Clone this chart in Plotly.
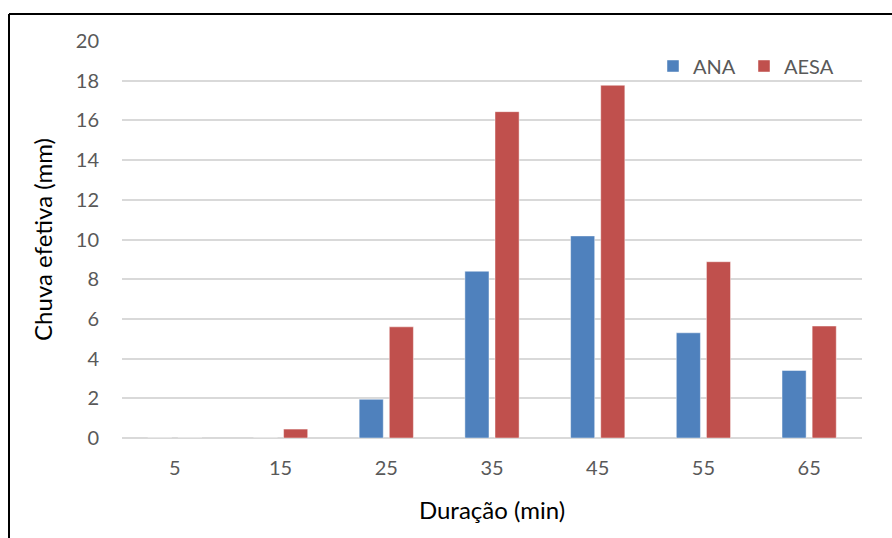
import plotly.graph_objects as go

# Duração das chuvas (min) e chuva efetiva (mm) por fonte
duracao = ["5", "15", "25", "35", "45", "55", "65"]
ana = [0, 0, 1.95, 8.4, 10.18, 5.3, 3.4]
aesa = [0, 0.45, 5.6, 16.44, 17.77, 8.88, 5.64]
y_ticks = [0, 2, 4, 6, 8, 10, 12, 14, 16, 18, 20]

FONT = "Lato"
TICK_COLOR = "#595959"

fig = go.Figure()
fig.add_trace(go.Bar(
    x=duracao, y=ana, name="ANA",
    marker=dict(color="#4F81BD", line=dict(color="rgba(255,255,255,0.45)", width=1)),
))
fig.add_trace(go.Bar(
    x=duracao, y=aesa, name="AESA",
    marker=dict(color="#C0504D", line=dict(color="rgba(255,255,255,0.45)", width=1)),
))

W, H = 892, 538
L, R, T, B = 122, 30, 41, 100
pw, ph = W - L - R, H - T - B


def px_x(px):
    return (px - L) / pw


def px_y(py):
    return (H - B - py) / ph


# Chart-area frame (top and left edges)
frame = dict(type="line", xref="paper", yref="paper", line=dict(color="black", width=2), layer="above")
fig.add_shape(**frame, x0=px_x(9), x1=px_x(895), y0=px_y(14), y1=px_y(14))
fig.add_shape(**frame, x0=px_x(9), x1=px_x(9), y0=px_y(14), y1=px_y(545))

fig.update_layout(
    width=W, height=H,
    margin=dict(l=L, r=R, t=T, b=B, autoexpand=False),
    paper_bgcolor="white", plot_bgcolor="white",
    barmode="group", bargap=0.43, bargroupgap=0.2,
    font=dict(family=FONT, color=TICK_COLOR, size=20),
    showlegend=True,
    legend=dict(
        orientation="h", x=px_x(653), y=px_y(66), xanchor="left", yanchor="middle",
        font=dict(family=FONT, size=20, color=TICK_COLOR),
        itemwidth=30, entrywidth=46, bgcolor="rgba(0,0,0,0)",
    ),
    xaxis=dict(
        type="category", showgrid=False, showline=False, zeroline=False, ticks="",
        tickfont=dict(family=FONT, size=20, color=TICK_COLOR),
        ticklabelstandoff=16, automargin=False,
        title=dict(text="Duração (min)", font=dict(family=FONT, size=24, color="black"), standoff=24),
    ),
    yaxis=dict(
        range=[0, 20], tickvals=y_ticks, showgrid=True, gridcolor="#D9D9D9", gridwidth=1.5,
        zeroline=True, zerolinecolor="#D9D9D9", zerolinewidth=1.5, showline=False, ticks="",
        tickfont=dict(family=FONT, size=20, color=TICK_COLOR),
        ticklabelstandoff=22, automargin=False,
        title=dict(text="Chuva efetiva (mm)", font=dict(family=FONT, size=24, color="black"), standoff=16),
    ),
)

fig.write_html("out.html")
